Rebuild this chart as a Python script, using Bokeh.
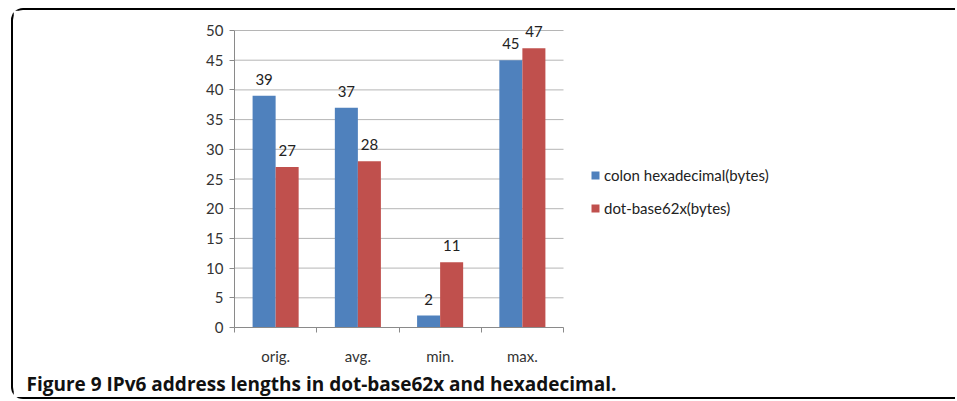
from bokeh.plotting import figure
from bokeh.models import (ColumnDataSource, Range1d, FixedTicker, LinearAxis,
                          Legend, LegendItem, LabelSet, Title)
from bokeh.transform import dodge
from bokeh.core.properties import value
from bokeh.embed import file_html
from bokeh.resources import INLINE

categories = ["orig.", "avg.", "min.", "max."]
colon_hex = [39, 37, 2, 45]
dot_base62x = [27, 28, 11, 47]
y_ticks = [0, 5, 10, 15, 20, 25, 30, 35, 40, 45, 50]
series_names = ["colon hexadecimal(bytes)", "dot-base62x(bytes)"]
caption = "Figure 9 IPv6 address lengths in dot-base62x and hexadecimal."

BLUE = "#4F81BD"
RED = "#C0504D"
FONT = "Lato"
AXIS_GRAY = "#8a8a8a"
GRID_GRAY = "#b5b5b5"

n = len(categories)
y_max = y_ticks[-1]
# frame spans to the right edge so the legend can sit beside the bars;
# the category area occupies the left 329 px of a 723 px wide frame
FRAME_W = 723
CAT_W = 329
# the frame reaches 18 px above the top gridline so labels there are not cut
PLOT_H = 297
HEAD = 18
centers = [i + 0.5 for i in range(n)]
src = ColumnDataSource(dict(
    x=centers, cat=categories,
    a=colon_hex, b=dot_base62x,
    a_lbl=[str(v) for v in colon_hex], b_lbl=[str(v) for v in dot_base62x],
))
grid_src = ColumnDataSource(dict(y=y_ticks, x0=[0] * len(y_ticks),
                                 x1=[n] * len(y_ticks)))

p = figure(width=944, height=391, output_backend="svg", toolbar_location=None,
           x_range=Range1d(0, n * FRAME_W / CAT_W),
           y_range=Range1d(0, y_max + HEAD * y_max / PLOT_H),
           min_border_left=221, min_border_right=0, min_border_top=2,
           min_border_bottom=74, x_axis_type=None, y_axis_type=None)
p.outline_line_color = None
p.background_fill_color = "white"
p.border_fill_color = "white"
p.xgrid.visible = False
p.ygrid.visible = False
p.styles = {"margin-left": "11px", "margin-top": "8px",
            "border-left": "2px solid black", "border-top": "2px solid black",
            "border-bottom": "2px solid black",
            "border-top-left-radius": "12px",
            "border-bottom-left-radius": "12px"}

# horizontal gridlines limited to the category area
p.segment(x0="x0", x1="x1", y0="y", y1="y", source=grid_src,
          line_color=GRID_GRAY, line_width=1)

r1 = p.vbar(x=dodge("x", -0.14), top="a", width=0.28, source=src,
            fill_color=BLUE, line_color=None)
r2 = p.vbar(x=dodge("x", 0.14), top="b", width=0.28, source=src,
            fill_color=RED, line_color=None)

# y axis
yax = LinearAxis(ticker=FixedTicker(ticks=y_ticks, minor_ticks=[]),
                 bounds=(0, y_max))
yax.axis_line_color = AXIS_GRAY
yax.major_tick_line_color = AXIS_GRAY
yax.major_tick_in = 0
yax.major_tick_out = 5
yax.minor_tick_line_color = None
yax.major_label_text_font = FONT
yax.major_label_text_font_size = "15px"
yax.major_label_text_color = "#333333"
yax.major_label_standoff = 6
p.add_layout(yax, "left")

# x axis: boundary ticks as minor ticks, category names at centres
xax = LinearAxis(ticker=FixedTicker(ticks=centers,
                                    minor_ticks=list(range(n + 1))),
                 bounds=(0, n))
xax.major_label_overrides = {c: nm for c, nm in zip(centers, categories)}
xax.axis_line_color = AXIS_GRAY
xax.major_tick_line_color = None
xax.major_tick_in = 0
xax.major_tick_out = 0
xax.minor_tick_line_color = AXIS_GRAY
xax.minor_tick_in = 0
xax.minor_tick_out = 5
xax.major_label_text_font = FONT
xax.major_label_text_font_size = "15px"
xax.major_label_text_color = "#333333"
xax.major_label_standoff = 14
p.add_layout(xax, "below")

# data labels
for col, off in (("a", -0.14), ("b", 0.14)):
    ls = LabelSet(x=dodge("x", off), y=col, text=col + "_lbl", source=src,
                  text_align="center", text_baseline="bottom", y_offset=11,
                  text_font=value(FONT), text_font_size="15px",
                  text_color="#222222")
    p.add_layout(ls)

legend = Legend(items=[LegendItem(label=series_names[0], renderers=[r1]),
                       LegendItem(label=series_names[1], renderers=[r2])],
                location=(356, 109), orientation="vertical")
legend.border_line_color = None
legend.background_fill_alpha = 0
legend.padding = 0
legend.margin = 0
legend.spacing = 13
legend.glyph_width = 10
legend.glyph_height = 10
legend.label_height = 20
legend.label_standoff = 4
legend.label_text_font = FONT
legend.label_text_font_size = "15px"
legend.label_text_color = "#222222"
p.add_layout(legend)

# caption
cap = Title(text=caption, align="left", offset=-208, standoff=2,
            text_font="Open Sans", text_font_style="bold",
            text_font_size="19px", text_color="#111111")
p.add_layout(cap, "below")

open("out.html", "w").write(file_html(p, INLINE))
